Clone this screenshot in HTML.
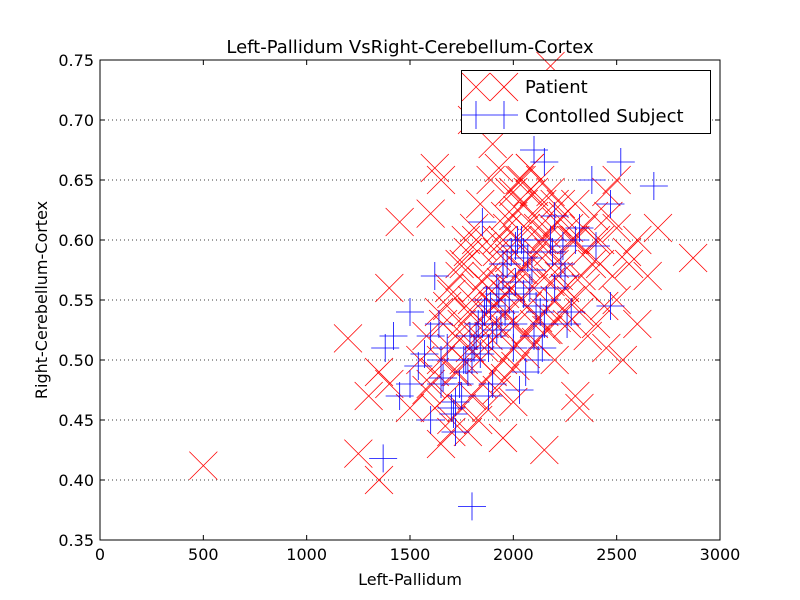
<!DOCTYPE html>
<html><head><meta charset="utf-8"><style>
body{margin:0;background:#fff}
svg{display:block;font-family:"DejaVu Sans","Liberation Sans",sans-serif}
</style></head><body>
<svg id="chart" width="800" height="600">
<rect width="800" height="600" fill="#fff"/>
<g id="grid"></g>
<g id="marks"></g>
<rect x="100" y="60" width="620" height="480" fill="none" stroke="#000" stroke-width="1"/>
<g id="axes"></g>
<text x="410" y="53" font-size="18" text-anchor="middle">Left-Pallidum VsRight-Cerebellum-Cortex</text>
<text x="410" y="585" font-size="16" text-anchor="middle">Left-Pallidum</text>
<text x="47" y="300" font-size="16" text-anchor="middle" transform="rotate(-90 47 300)">Right-Cerebellum-Cortex</text>
<g>
<rect x="461.5" y="70.5" width="249" height="63" fill="#fff" stroke="#000"/>
<g stroke="red" stroke-width="0.8">
<path d="M462 73L490 101M490 73L462 101M490 73L518 101M518 73L490 101"/>
</g>
<text x="525" y="93" font-size="18">Patient</text>
<g stroke="blue" stroke-width="0.8">
<path d="M462 115H518M476 101V129M504 101V129"/>
</g>
<text x="525" y="122" font-size="18">Contolled Subject</text>
</g>
</svg>
<script>
const xTicks=[0,500,1000,1500,2000,2500,3000];
const yTicks=[0.35,0.40,0.45,0.50,0.55,0.60,0.65,0.70,0.75];
const patientX=[500,2870,1250,1350,1200,1450,1600,1620,1650,1800,1900,2180,2300,2500,2600,2700,2650,2600,2450,2530,2300,2320,2150,1950,1700,1650,1300,1350,1400,1400,1500,2400,2500,2550,
1600,1650,1700,1720,1750,1780,1800,1820,1850,1870,1900,1920,1950,1970,2000,2020,2050,2070,2100,2120,2150,2170,2200,2220,2250,2280,
1620,1680,1730,1760,1790,1830,1860,1880,1910,1940,1960,1990,2010,2040,2060,2090,2110,2140,2160,2190,2210,2240,2270,2300,2350,2400,
1700,1750,1800,1850,1900,1950,2000,2050,2100,2150,2200,2250,2330,2380,2420,2460,
1550,1580,1640,1690,1740,1770,1810,1840,1890,1930,1980,2030,2080,2130,2180,2230,2260,2360,
1780,1830,1870,1920,1960,2010,2060,2110,2160,2210,2320,2440,2200,2000,1880,1760,1850,2050,1680,1950,
1990,2030,2070,2120,2170,2240,2290,2340,2390,2450,2500,2560,1860,1910,1960,2010,2060,2100,2140,2180,
1720,1760,1800,1840,1880,1920,1960,2000,2040,2080,1900,1940,1980,2020,2060,2100,2140,1580,1620,1660,
1700,1740,1780,1820,2250,2350,2420,2480,2200,2280];
const patientY=[0.412,0.585,0.422,0.400,0.518,0.615,0.622,0.660,0.650,0.700,0.680,0.745,0.630,0.650,0.600,0.610,0.570,0.530,0.510,0.500,0.470,0.460,0.425,0.435,0.440,0.430,0.470,0.490,0.560,0.480,0.460,0.530,0.550,0.590,
0.480,0.500,0.510,0.520,0.530,0.540,0.550,0.560,0.565,0.570,0.580,0.590,0.600,0.610,0.620,0.625,0.630,0.640,0.620,0.610,0.600,0.590,0.580,0.570,0.560,0.550,
0.460,0.470,0.490,0.500,0.510,0.520,0.530,0.540,0.545,0.550,0.555,0.560,0.570,0.575,0.580,0.585,0.590,0.600,0.605,0.610,0.615,0.620,0.610,0.600,0.590,0.600,
0.450,0.460,0.470,0.480,0.490,0.500,0.510,0.520,0.530,0.540,0.550,0.560,0.570,0.580,0.600,0.620,
0.500,0.520,0.540,0.560,0.580,0.600,0.610,0.630,0.650,0.660,0.640,0.650,0.660,0.650,0.640,0.630,0.530,0.520,
0.440,0.450,0.460,0.475,0.485,0.495,0.505,0.515,0.525,0.535,0.540,0.545,0.500,0.465,0.520,0.580,0.595,0.575,0.545,0.525,
0.560,0.550,0.545,0.535,0.525,0.580,0.600,0.610,0.620,0.640,0.610,0.580,0.510,0.530,0.540,0.530,0.520,0.560,0.570,0.565,
0.490,0.520,0.540,0.500,0.560,0.600,0.620,0.640,0.650,0.660,0.545,0.565,0.585,0.600,0.610,0.640,0.630,0.475,0.490,0.530,
0.555,0.570,0.590,0.600,0.540,0.560,0.580,0.570,0.630,0.600];
const controlX=[1800,1370,1380,1420,1450,1500,1500,1600,1620,1650,2680,2520,2380,2150,2100,2200,2470,2470,2400,2300,1850,1950,
1600,1650,1700,1720,1750,1780,1800,1830,1860,1880,1900,1920,1950,1980,2000,2020,2050,2080,2100,2130,2160,2200,2250,2280,
1680,1740,1770,1810,1850,1890,1930,1970,2010,2040,2070,2110,2150,2190,2230,2000,1900,1820,1760,2060,2120,1940,1870,2030,
1540,1570,1660,1710,1790,1840,1960,1990,2050,2140,2180,2260,2320,1720,1880,1920,2010,2090,2240,1640];
const controlY=[0.378,0.418,0.510,0.520,0.470,0.540,0.480,0.450,0.570,0.480,0.645,0.665,0.650,0.665,0.675,0.620,0.630,0.545,0.595,0.600,0.615,0.580,
0.520,0.500,0.460,0.440,0.470,0.490,0.500,0.530,0.540,0.470,0.520,0.560,0.570,0.550,0.530,0.600,0.590,0.560,0.520,0.540,0.550,0.560,0.570,0.540,
0.510,0.480,0.500,0.510,0.530,0.545,0.555,0.580,0.595,0.600,0.585,0.545,0.530,0.590,0.580,0.510,0.480,0.520,0.500,0.490,0.500,0.530,0.550,0.475,
0.495,0.505,0.485,0.455,0.520,0.505,0.540,0.590,0.555,0.510,0.600,0.530,0.610,0.465,0.510,0.525,0.565,0.575,0.595,0.530];
const NS="http://www.w3.org/2000/svg";
const X0=100,X1=720,Y0=540,Y1=60;
function sx(v){return X0+(v-0)/3000*(X1-X0);}
function sy(v){return Y0-(v-0.35)/0.4*(Y0-Y1);}
const grid=document.getElementById('grid'),axes=document.getElementById('axes'),marks=document.getElementById('marks');
function mk(tag,attrs,parent){const e=document.createElementNS(NS,tag);for(const k in attrs)e.setAttribute(k,attrs[k]);parent.appendChild(e);return e;}
yTicks.forEach(t=>{const y=sy(t);
 if(t>0.35&&t<0.75){const g=mk('line',{x1:X0,x2:X1,y1:y,y2:y,stroke:'#000','stroke-dasharray':'1,3','stroke-width':0.8},grid);
 
 }
 mk('line',{x1:X0,x2:X0+5,y1:y,y2:y,stroke:'#000'},axes);
 mk('line',{x1:X1,x2:X1-5,y1:y,y2:y,stroke:'#000'},axes);
 const tx=mk('text',{x:X0-6,y:y+6,'font-size':16,'text-anchor':'end'},axes);tx.textContent=t.toFixed(2);
 
 
});
xTicks.forEach(t=>{const x=sx(t);
 mk('line',{x1:x,x2:x,y1:Y0,y2:Y0-5,stroke:'#000'},axes);
 mk('line',{x1:x,x2:x,y1:Y1,y2:Y1+5,stroke:'#000'},axes);
 const tx=mk('text',{x:x,y:Y0+20,'font-size':16,'text-anchor':'middle'},axes);tx.textContent=t;
 
 
});
patientX.forEach((v,i)=>{const x=sx(v),y=sy(patientY[i]),r=14;
 const p=mk('path',{d:`M${x-r} ${y-r}L${x+r} ${y+r}M${x+r} ${y-r}L${x-r} ${y+r}`,stroke:'red','stroke-width':0.8,fill:'none'},marks);
 
 
});
controlX.forEach((v,i)=>{const x=sx(v),y=sy(controlY[i]),r=14;
 const p=mk('path',{d:`M${x-r} ${y}H${x+r}M${x} ${y-r}V${y+r}`,stroke:'blue','stroke-width':0.8,fill:'none'},marks);
 
 
});
</script>
</body></html>
